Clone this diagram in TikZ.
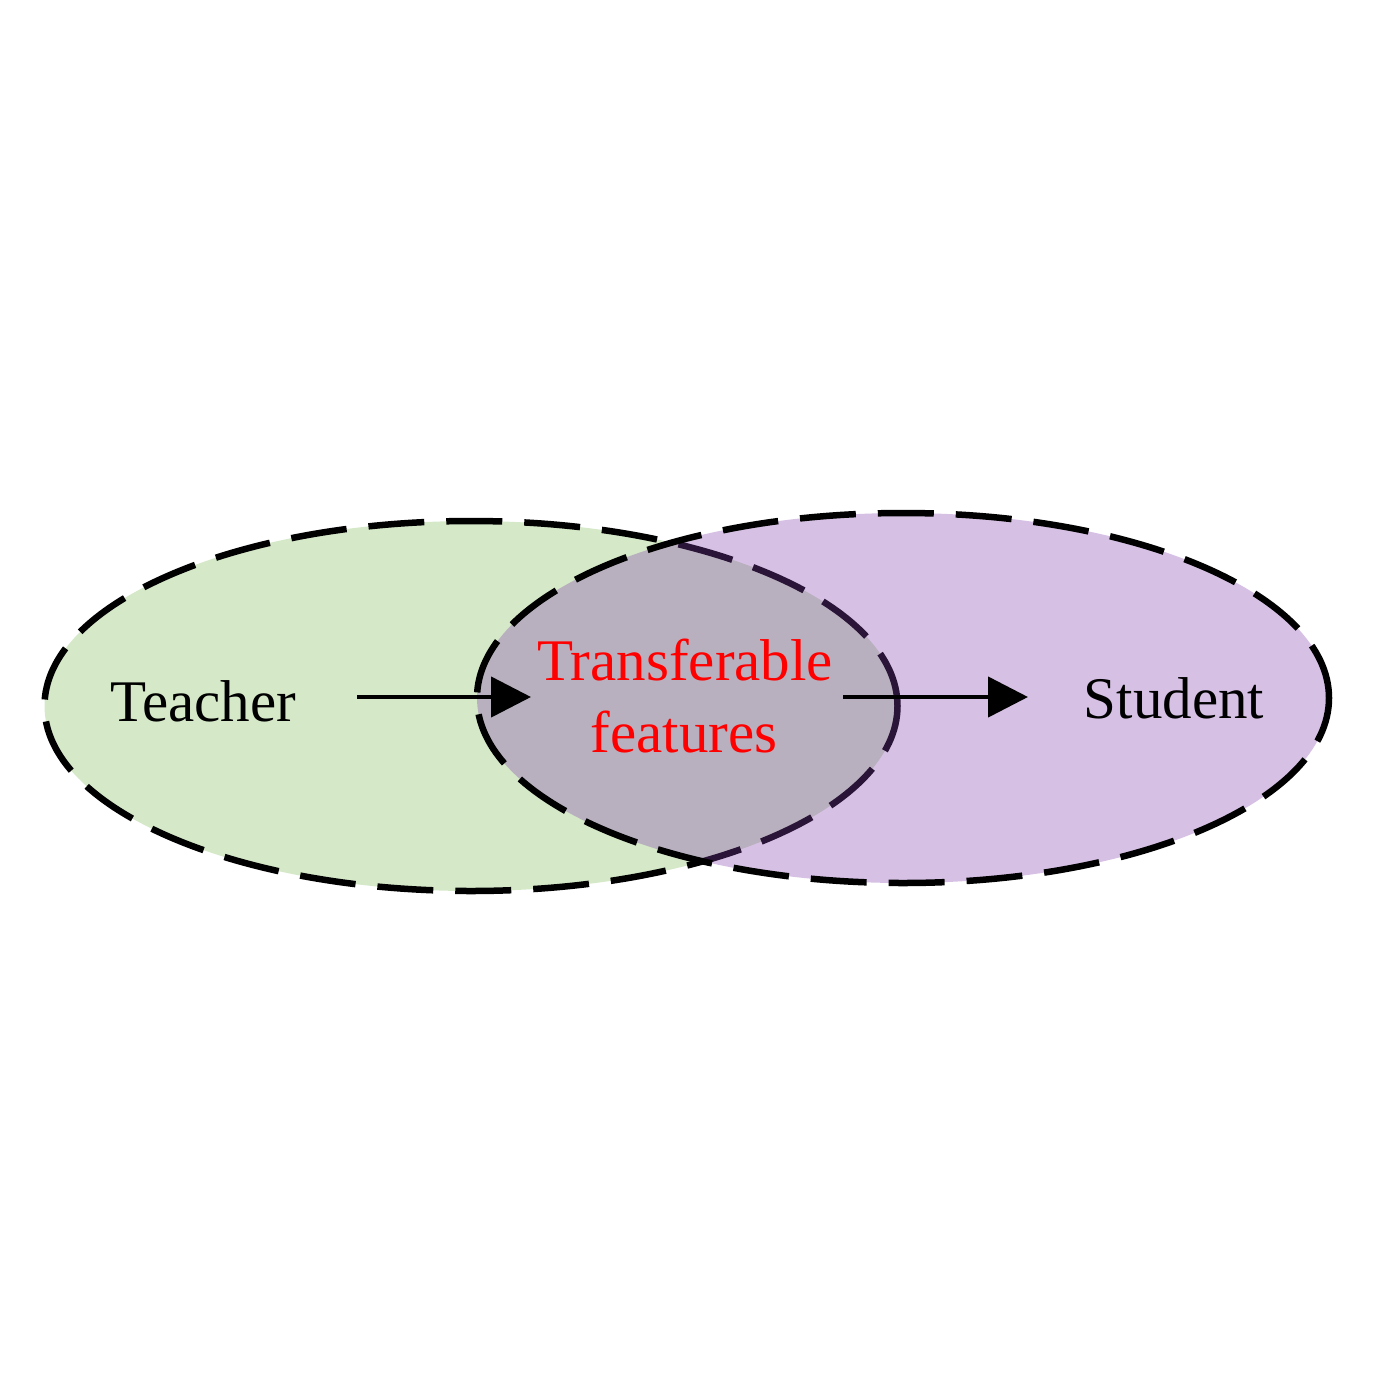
\documentclass[tikz,border=0pt]{standalone}
\usepackage{fontspec}
\setmainfont{Liberation Serif}
\usetikzlibrary{shapes.geometric,arrows.meta}
\definecolor{tgreen}{RGB}{213,232,200}
\definecolor{spurple}{RGB}{130,64,173}
\definecolor{tred}{RGB}{255,0,0}
\tikzset{
  setell/.style={ellipse, line width=6.5pt, dash pattern=on 56pt off 22pt, draw=black, inner sep=0pt},
  lbl/.style={font=\fontsize{59}{72}\selectfont, inner sep=0pt, align=center},
  arr/.style={line width=4.5pt, -{Triangle[length=40pt,width=40pt]}}
}
\begin{document}
\begin{tikzpicture}[x=1pt,y=-1pt]
\useasboundingbox (0,0) rectangle (1382,1382);
\node[setell, fill=tgreen, minimum width=853pt, minimum height=370pt] (teacherset) at (471,706) {};
\node[setell, fill=spurple, fill opacity=0.33, minimum width=852pt, minimum height=370pt] (studentset) at (903,698) {};
\node[lbl, anchor=base] (teacher) at (203,721) {Teacher};
\node[lbl, anchor=base] (student) at (1174,718) {Student};
\node[lbl, anchor=base, text=tred] (transfer) at (685,680) {Transferable};
\node[lbl, anchor=base, text=tred] (features) at (684,752) {features};
\coordinate (a1s) at (357,697);
\coordinate (a1e) at (531,697);
\coordinate (a2s) at (843,697);
\coordinate (a2e) at (1028,697);
\draw[arr] (a1s) -- (a1e);
\draw[arr] (a2s) -- (a2e);
\end{tikzpicture}
\end{document}
